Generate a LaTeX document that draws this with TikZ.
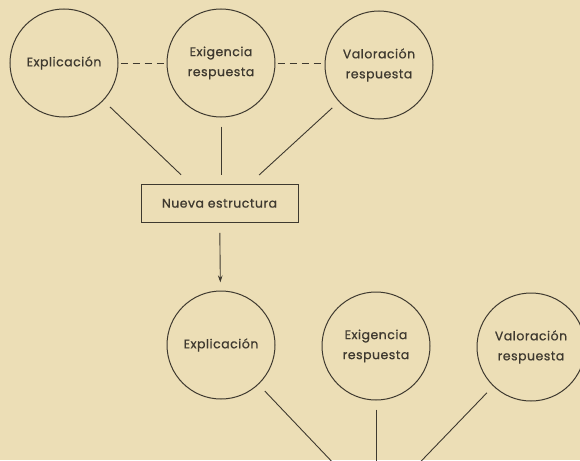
\documentclass[tikz,border=0pt]{standalone}
\usepackage{fontspec}
\setmainfont{Poppins}[LetterSpace=4,FakeBold=0.7]
\usetikzlibrary{arrows.meta}
\definecolor{paper}{RGB}{236,222,182}
\definecolor{ink}{RGB}{62,57,47}
\begin{document}
\begin{tikzpicture}[x=1pt,y=-1pt,
  circ/.style={circle, draw=ink, line width=1pt, minimum size=108pt, inner sep=0pt,
    align=center, text=ink, font=\fontsize{12.5}{20}\selectfont},
  boxn/.style={rectangle, draw=ink, line width=1pt, minimum width=157pt, minimum height=38pt,
    inner sep=0pt, text=ink, font=\fontsize{12.5}{20}\selectfont},
  link/.style={draw=ink, line width=0.9pt},
  dashlink/.style={link, line width=1pt, dash pattern=on 7.5pt off 4.5pt}]
\useasboundingbox (0,0) rectangle (580,460);
\fill[paper] (0,0) rectangle (580,460);
\clip (0,0) rectangle (580,460);
% top row
\node[circ] (a1) at (64,63) {Explicación};
\node[circ] (a2) at (221,63) {Exigencia\\respuesta};
\node[circ] (a3) at (379,65) {Valoración\\respuesta};
\node[boxn] (nb) at (219.5,203.3) {Nueva estructura};
% bottom row
\node[circ] (b1) at (221,345) {Explicación};
\node[circ] (b2) at (376,346) {Exigencia\\respuesta};
\node[circ] (b3) at (531,347) {Valoración\\respuesta};
\coordinate (conv) at (376,508);
% dashed links
\draw[dashlink, shorten <=2pt] (a1.east) -- (a1.east -| a2.west);
\draw[dashlink, shorten <=2pt] (a2.east) -- (a2.east -| a3.west);
% links to box
\draw[link, shorten <=9pt, shorten >=13pt] (a1) -- ([xshift=-29pt]nb.north);
\draw[link, shorten <=9pt, shorten >=9pt] (a2.south) -- (a2.south |- nb.north);
\draw[link, shorten <=9pt, shorten >=13pt] (a3) -- ([xshift=30pt]nb.north);
% arrow
\draw[link, -{Stealth[length=7pt,width=4.5pt]}, shorten <=10pt, shorten >=8pt] (nb) -- (b1);
% bottom links
\draw[link, shorten <=9pt] (b1) -- (conv);
\draw[link, shorten <=9pt] (b2) -- (conv);
\draw[link, shorten <=9pt] (b3) -- (conv);
\end{tikzpicture}
\end{document}
